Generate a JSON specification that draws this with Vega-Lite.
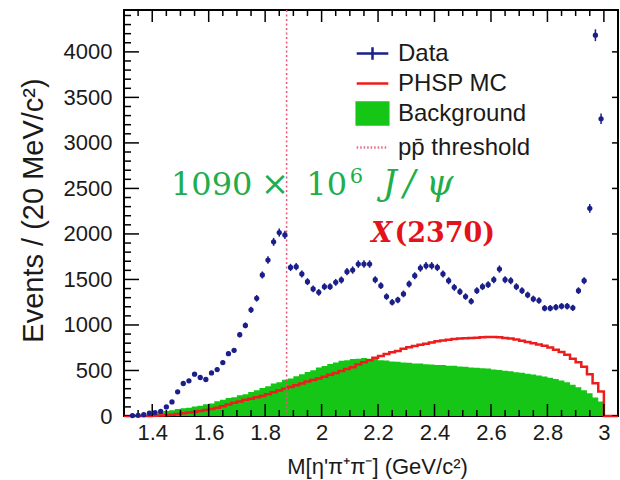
{
  "$schema": "https://vega.github.io/schema/vega-lite/v6.json",
  "width": 494,
  "height": 406,
  "autosize": {"type": "none"},
  "padding": {"left": 124, "top": 10, "right": 2, "bottom": 64},
  "background": "white",
  "config": {
    "view": {"stroke": "black", "strokeWidth": 2},
    "font": "Liberation Sans",
    "axis": {
      "grid": false,
      "domain": false,
      "ticks": false,
      "labelFont": "Liberation Sans",
      "labelFontSize": 22,
      "labelColor": "#1a1a1a",
      "titleFont": "Liberation Sans",
      "titleFontWeight": "normal",
      "titleColor": "#1a1a1a"
    },
    "legend": {
      "orient": "none",
      "legendX": 231,
      "legendY": 26,
      "padding": 0,
      "labelFont": "Liberation Sans",
      "labelFontSize": 24,
      "labelColor": "#1a1a1a",
      "symbolSize": 1000,
      "symbolStrokeWidth": 2.5,
      "symbolOpacity": 1,
      "labelOffset": 8,
      "rowPadding": 0
    }
  },
  "datasets": {
    "xMajor": [{"v": 1.4}, {"v": 1.6}, {"v": 1.8}, {"v": 2.0}, {"v": 2.2}, {"v": 2.4}, {"v": 2.6}, {"v": 2.8}, {"v": 3.0}],
    "xMinor": [{"v": 1.35}, {"v": 1.45}, {"v": 1.5}, {"v": 1.55}, {"v": 1.65}, {"v": 1.7}, {"v": 1.75}, {"v": 1.85}, {"v": 1.9}, {"v": 1.95}, {"v": 2.05}, {"v": 2.1}, {"v": 2.15}, {"v": 2.25}, {"v": 2.3}, {"v": 2.35}, {"v": 2.45}, {"v": 2.5}, {"v": 2.55}, {"v": 2.65}, {"v": 2.7}, {"v": 2.75}, {"v": 2.85}, {"v": 2.9}, {"v": 2.95}],
    "yMajor": [{"v": 0}, {"v": 500}, {"v": 1000}, {"v": 1500}, {"v": 2000}, {"v": 2500}, {"v": 3000}, {"v": 3500}, {"v": 4000}],
    "yMinor": [{"v": 100}, {"v": 200}, {"v": 300}, {"v": 400}, {"v": 600}, {"v": 700}, {"v": 800}, {"v": 900}, {"v": 1100}, {"v": 1200}, {"v": 1300}, {"v": 1400}, {"v": 1600}, {"v": 1700}, {"v": 1800}, {"v": 1900}, {"v": 2100}, {"v": 2200}, {"v": 2300}, {"v": 2400}, {"v": 2600}, {"v": 2700}, {"v": 2800}, {"v": 2900}, {"v": 3100}, {"v": 3200}, {"v": 3300}, {"v": 3400}, {"v": 3600}, {"v": 3700}, {"v": 3800}, {"v": 3900}, {"v": 4100}, {"v": 4200}, {"v": 4300}, {"v": 4400}],
    "mc": [
      {"m_lo": 1.30, "phsp": 0, "bkg": 0},
      {"m_lo": 1.32, "phsp": 0, "bkg": 0},
      {"m_lo": 1.34, "phsp": 0, "bkg": 5},
      {"m_lo": 1.36, "phsp": 0, "bkg": 10},
      {"m_lo": 1.38, "phsp": 0, "bkg": 15},
      {"m_lo": 1.40, "phsp": 2, "bkg": 25},
      {"m_lo": 1.42, "phsp": 5, "bkg": 40},
      {"m_lo": 1.44, "phsp": 10, "bkg": 55},
      {"m_lo": 1.46, "phsp": 15, "bkg": 62},
      {"m_lo": 1.48, "phsp": 22, "bkg": 78},
      {"m_lo": 1.50, "phsp": 30, "bkg": 85},
      {"m_lo": 1.52, "phsp": 38, "bkg": 90},
      {"m_lo": 1.54, "phsp": 45, "bkg": 104},
      {"m_lo": 1.56, "phsp": 55, "bkg": 112},
      {"m_lo": 1.58, "phsp": 65, "bkg": 128},
      {"m_lo": 1.60, "phsp": 78, "bkg": 138},
      {"m_lo": 1.62, "phsp": 92, "bkg": 162},
      {"m_lo": 1.64, "phsp": 108, "bkg": 178},
      {"m_lo": 1.66, "phsp": 125, "bkg": 198},
      {"m_lo": 1.68, "phsp": 145, "bkg": 207},
      {"m_lo": 1.70, "phsp": 160, "bkg": 228},
      {"m_lo": 1.72, "phsp": 178, "bkg": 238},
      {"m_lo": 1.74, "phsp": 190, "bkg": 265},
      {"m_lo": 1.76, "phsp": 205, "bkg": 282},
      {"m_lo": 1.78, "phsp": 220, "bkg": 308},
      {"m_lo": 1.80, "phsp": 240, "bkg": 328},
      {"m_lo": 1.82, "phsp": 260, "bkg": 358},
      {"m_lo": 1.84, "phsp": 280, "bkg": 372},
      {"m_lo": 1.86, "phsp": 300, "bkg": 398},
      {"m_lo": 1.88, "phsp": 318, "bkg": 412},
      {"m_lo": 1.90, "phsp": 338, "bkg": 438},
      {"m_lo": 1.92, "phsp": 358, "bkg": 458},
      {"m_lo": 1.94, "phsp": 378, "bkg": 483},
      {"m_lo": 1.96, "phsp": 395, "bkg": 502},
      {"m_lo": 1.98, "phsp": 412, "bkg": 532},
      {"m_lo": 2.00, "phsp": 432, "bkg": 548},
      {"m_lo": 2.02, "phsp": 452, "bkg": 572},
      {"m_lo": 2.04, "phsp": 472, "bkg": 588},
      {"m_lo": 2.06, "phsp": 495, "bkg": 607},
      {"m_lo": 2.08, "phsp": 515, "bkg": 613},
      {"m_lo": 2.10, "phsp": 535, "bkg": 627},
      {"m_lo": 2.12, "phsp": 565, "bkg": 628},
      {"m_lo": 2.14, "phsp": 590, "bkg": 637},
      {"m_lo": 2.16, "phsp": 612, "bkg": 628},
      {"m_lo": 2.18, "phsp": 640, "bkg": 626},
      {"m_lo": 2.20, "phsp": 660, "bkg": 612},
      {"m_lo": 2.22, "phsp": 680, "bkg": 611},
      {"m_lo": 2.24, "phsp": 700, "bkg": 598},
      {"m_lo": 2.26, "phsp": 715, "bkg": 596},
      {"m_lo": 2.28, "phsp": 738, "bkg": 588},
      {"m_lo": 2.30, "phsp": 755, "bkg": 586},
      {"m_lo": 2.32, "phsp": 768, "bkg": 578},
      {"m_lo": 2.34, "phsp": 782, "bkg": 577},
      {"m_lo": 2.36, "phsp": 795, "bkg": 568},
      {"m_lo": 2.38, "phsp": 808, "bkg": 566},
      {"m_lo": 2.40, "phsp": 820, "bkg": 560},
      {"m_lo": 2.42, "phsp": 830, "bkg": 559},
      {"m_lo": 2.44, "phsp": 838, "bkg": 553},
      {"m_lo": 2.46, "phsp": 845, "bkg": 551},
      {"m_lo": 2.48, "phsp": 850, "bkg": 544},
      {"m_lo": 2.50, "phsp": 854, "bkg": 541},
      {"m_lo": 2.52, "phsp": 858, "bkg": 534},
      {"m_lo": 2.54, "phsp": 860, "bkg": 531},
      {"m_lo": 2.56, "phsp": 864, "bkg": 524},
      {"m_lo": 2.58, "phsp": 867, "bkg": 521},
      {"m_lo": 2.60, "phsp": 868, "bkg": 511},
      {"m_lo": 2.62, "phsp": 866, "bkg": 506},
      {"m_lo": 2.64, "phsp": 858, "bkg": 497},
      {"m_lo": 2.66, "phsp": 850, "bkg": 491},
      {"m_lo": 2.68, "phsp": 840, "bkg": 481},
      {"m_lo": 2.70, "phsp": 828, "bkg": 476},
      {"m_lo": 2.72, "phsp": 812, "bkg": 464},
      {"m_lo": 2.74, "phsp": 800, "bkg": 456},
      {"m_lo": 2.76, "phsp": 785, "bkg": 444},
      {"m_lo": 2.78, "phsp": 772, "bkg": 433},
      {"m_lo": 2.80, "phsp": 752, "bkg": 419},
      {"m_lo": 2.82, "phsp": 728, "bkg": 406},
      {"m_lo": 2.84, "phsp": 703, "bkg": 389},
      {"m_lo": 2.86, "phsp": 672, "bkg": 371},
      {"m_lo": 2.88, "phsp": 630, "bkg": 344},
      {"m_lo": 2.90, "phsp": 590, "bkg": 316},
      {"m_lo": 2.92, "phsp": 540, "bkg": 284},
      {"m_lo": 2.94, "phsp": 460, "bkg": 251},
      {"m_lo": 2.96, "phsp": 360, "bkg": 204},
      {"m_lo": 2.98, "phsp": 268, "bkg": 160},
      {"m_lo": 3.00, "phsp": 0, "bkg": 0},
      {"m_lo": 3.05, "phsp": 0, "bkg": 0}
    ],
    "pts": [
      {"m": 1.33, "n": 5, "err": 3},
      {"m": 1.35, "n": 8, "err": 3},
      {"m": 1.37, "n": 15, "err": 4},
      {"m": 1.39, "n": 30, "err": 6},
      {"m": 1.41, "n": 38, "err": 6},
      {"m": 1.43, "n": 50, "err": 7},
      {"m": 1.45, "n": 100, "err": 10},
      {"m": 1.47, "n": 155, "err": 12},
      {"m": 1.49, "n": 266, "err": 16},
      {"m": 1.51, "n": 357, "err": 19},
      {"m": 1.53, "n": 386, "err": 20},
      {"m": 1.55, "n": 459, "err": 21},
      {"m": 1.57, "n": 423, "err": 21},
      {"m": 1.59, "n": 401, "err": 20},
      {"m": 1.61, "n": 473, "err": 22},
      {"m": 1.63, "n": 510, "err": 23},
      {"m": 1.65, "n": 587, "err": 24},
      {"m": 1.67, "n": 685, "err": 26},
      {"m": 1.69, "n": 721, "err": 27},
      {"m": 1.71, "n": 893, "err": 30},
      {"m": 1.73, "n": 995, "err": 32},
      {"m": 1.75, "n": 1166, "err": 34},
      {"m": 1.77, "n": 1293, "err": 36},
      {"m": 1.79, "n": 1549, "err": 39},
      {"m": 1.81, "n": 1713, "err": 41},
      {"m": 1.83, "n": 1913, "err": 44},
      {"m": 1.85, "n": 2015, "err": 45},
      {"m": 1.87, "n": 1989, "err": 45},
      {"m": 1.89, "n": 1632, "err": 40},
      {"m": 1.91, "n": 1640, "err": 40},
      {"m": 1.93, "n": 1560, "err": 39},
      {"m": 1.95, "n": 1476, "err": 38},
      {"m": 1.97, "n": 1396, "err": 37},
      {"m": 1.99, "n": 1359, "err": 37},
      {"m": 2.01, "n": 1421, "err": 38},
      {"m": 2.03, "n": 1421, "err": 38},
      {"m": 2.05, "n": 1468, "err": 38},
      {"m": 2.07, "n": 1494, "err": 39},
      {"m": 2.09, "n": 1585, "err": 40},
      {"m": 2.11, "n": 1603, "err": 40},
      {"m": 2.13, "n": 1669, "err": 41},
      {"m": 2.15, "n": 1669, "err": 41},
      {"m": 2.17, "n": 1669, "err": 41},
      {"m": 2.19, "n": 1497, "err": 39},
      {"m": 2.21, "n": 1432, "err": 38},
      {"m": 2.23, "n": 1312, "err": 36},
      {"m": 2.25, "n": 1249, "err": 35},
      {"m": 2.27, "n": 1275, "err": 36},
      {"m": 2.29, "n": 1341, "err": 37},
      {"m": 2.31, "n": 1450, "err": 38},
      {"m": 2.33, "n": 1541, "err": 39},
      {"m": 2.35, "n": 1625, "err": 40},
      {"m": 2.37, "n": 1650, "err": 41},
      {"m": 2.39, "n": 1650, "err": 41},
      {"m": 2.41, "n": 1632, "err": 40},
      {"m": 2.43, "n": 1560, "err": 39},
      {"m": 2.45, "n": 1486, "err": 39},
      {"m": 2.47, "n": 1413, "err": 38},
      {"m": 2.49, "n": 1366, "err": 37},
      {"m": 2.51, "n": 1312, "err": 36},
      {"m": 2.53, "n": 1260, "err": 35},
      {"m": 2.55, "n": 1377, "err": 37},
      {"m": 2.57, "n": 1421, "err": 38},
      {"m": 2.59, "n": 1443, "err": 38},
      {"m": 2.61, "n": 1497, "err": 39},
      {"m": 2.63, "n": 1614, "err": 40},
      {"m": 2.65, "n": 1497, "err": 39},
      {"m": 2.67, "n": 1486, "err": 39},
      {"m": 2.69, "n": 1421, "err": 38},
      {"m": 2.71, "n": 1377, "err": 37},
      {"m": 2.73, "n": 1330, "err": 36},
      {"m": 2.75, "n": 1286, "err": 36},
      {"m": 2.77, "n": 1268, "err": 36},
      {"m": 2.79, "n": 1184, "err": 34},
      {"m": 2.81, "n": 1184, "err": 34},
      {"m": 2.83, "n": 1195, "err": 35},
      {"m": 2.85, "n": 1206, "err": 35},
      {"m": 2.87, "n": 1206, "err": 35},
      {"m": 2.89, "n": 1188, "err": 34},
      {"m": 2.91, "n": 1377, "err": 37},
      {"m": 2.93, "n": 1486, "err": 39},
      {"m": 2.95, "n": 2281, "err": 48},
      {"m": 2.97, "n": 4183, "err": 65},
      {"m": 2.99, "n": 3265, "err": 57}
    ]
  },
  "layer": [
    {
      "data": {"name": "mc"},
      "mark": {"type": "area", "interpolate": "step-after", "color": "#16c616"},
      "encoding": {
        "x": {
          "field": "m_lo", "type": "quantitative",
          "scale": {"domain": [1.3, 3.05], "nice": false, "zero": false},
          "axis": {
            "values": [1.4, 1.6, 1.8, 2, 2.2, 2.4, 2.6, 2.8, 3],
            "format": "~g",
            "labelPadding": 6,
            "title": "M[η'π⁺π⁻] (GeV/c²)",
            "titleFontSize": 22,
            "titleX": 253,
            "titleY": 57,
            "titleBaseline": "alphabetic",
            "titleAlign": "center"
          }
        },
        "y": {
          "field": "bkg", "type": "quantitative",
          "scale": {"domain": [0, 4460], "nice": false},
          "axis": {
            "values": [0, 500, 1000, 1500, 2000, 2500, 3000, 3500, 4000],
            "format": "d",
            "labelPadding": 12,
            "title": "Events / (20 MeV/c²)",
            "titleFontSize": 29,
            "titleAngle": -90,
            "titleX": -82,
            "titleY": 200,
            "titleAlign": "center",
            "titleBaseline": "alphabetic"
          }
        }
      }
    },
    {
      "data": {"name": "mc"},
      "mark": {"type": "line", "interpolate": "step-after", "color": "#ee1c1c", "strokeWidth": 2.5},
      "encoding": {
        "x": {"field": "m_lo", "type": "quantitative", "axis": null},
        "y": {"field": "phsp", "type": "quantitative", "axis": null}
      }
    },
    {
      "data": {"values": [{"m": 1.876}]},
      "mark": {"type": "rule", "color": "#e8577a", "strokeDash": [2, 2.5], "strokeWidth": 1.5},
      "encoding": {
        "x": {"field": "m", "type": "quantitative", "axis": null}
      }
    },
    {
      "data": {"name": "xMajor"},
      "mark": {"type": "tick", "orient": "vertical", "size": 24, "thickness": 1.5, "color": "black", "opacity": 1, "clip": true},
      "encoding": {
        "x": {"field": "v", "type": "quantitative", "axis": null},
        "y": {"datum": 0, "type": "quantitative", "axis": null}
      }
    },
    {
      "data": {"name": "xMajor"},
      "mark": {"type": "tick", "orient": "vertical", "size": 24, "thickness": 1.5, "color": "black", "opacity": 1, "clip": true},
      "encoding": {
        "x": {"field": "v", "type": "quantitative", "axis": null},
        "y": {"datum": 4460, "type": "quantitative", "axis": null}
      }
    },
    {
      "data": {"name": "xMinor"},
      "mark": {"type": "tick", "orient": "vertical", "size": 12, "thickness": 1.5, "color": "black", "opacity": 1, "clip": true},
      "encoding": {
        "x": {"field": "v", "type": "quantitative", "axis": null},
        "y": {"datum": 0, "type": "quantitative", "axis": null}
      }
    },
    {
      "data": {"name": "xMinor"},
      "mark": {"type": "tick", "orient": "vertical", "size": 12, "thickness": 1.5, "color": "black", "opacity": 1, "clip": true},
      "encoding": {
        "x": {"field": "v", "type": "quantitative", "axis": null},
        "y": {"datum": 4460, "type": "quantitative", "axis": null}
      }
    },
    {
      "data": {"name": "yMajor"},
      "mark": {"type": "tick", "orient": "horizontal", "size": 30, "thickness": 1.5, "color": "black", "opacity": 1, "clip": true},
      "encoding": {
        "x": {"datum": 1.3, "type": "quantitative", "axis": null},
        "y": {"field": "v", "type": "quantitative", "axis": null}
      }
    },
    {
      "data": {"name": "yMinor"},
      "mark": {"type": "tick", "orient": "horizontal", "size": 14, "thickness": 1.5, "color": "black", "opacity": 1, "clip": true},
      "encoding": {
        "x": {"datum": 1.3, "type": "quantitative", "axis": null},
        "y": {"field": "v", "type": "quantitative", "axis": null}
      }
    },
    {
      "data": {"name": "yMajor"},
      "mark": {"type": "tick", "orient": "horizontal", "size": 12, "thickness": 1.5, "color": "black", "opacity": 1, "clip": true},
      "encoding": {
        "x": {"datum": 3.05, "type": "quantitative", "axis": null},
        "y": {"field": "v", "type": "quantitative", "axis": null}
      }
    },
    {
      "data": {"name": "pts"},
      "mark": {"type": "errorbar", "color": "#1b1f8a", "thickness": 1.5},
      "encoding": {
        "x": {"field": "m", "type": "quantitative", "axis": null},
        "y": {"field": "n", "type": "quantitative", "axis": null},
        "yError": {"field": "err"}
      }
    },
    {
      "data": {"name": "pts"},
      "mark": {"type": "circle", "size": 28, "color": "#1b1f8a", "opacity": 1},
      "encoding": {
        "x": {"field": "m", "type": "quantitative", "axis": null},
        "y": {"field": "n", "type": "quantitative", "axis": null}
      }
    },
    {
      "data": {"values": [
        {"m": 1.4664, "n": 2429, "label": "1090"},
        {"m": 1.946, "n": 2429, "label": "10"}
      ]},
      "mark": {"type": "text", "font": "DejaVu Serif", "fontSize": 32, "color": "#22ad4b", "align": "left", "baseline": "alphabetic"},
      "encoding": {
        "x": {"field": "m", "type": "quantitative", "axis": null},
        "y": {"field": "n", "type": "quantitative", "axis": null},
        "text": {"field": "label"}
      }
    },
    {
      "data": {"values": [{"m": 2.1, "n": 2560, "label": "6"}]},
      "mark": {"type": "text", "font": "DejaVu Serif", "fontSize": 21, "color": "#22ad4b", "align": "left", "baseline": "alphabetic"},
      "encoding": {
        "x": {"field": "m", "type": "quantitative", "axis": null},
        "y": {"field": "n", "type": "quantitative", "axis": null},
        "text": {"field": "label"}
      }
    },
    {
      "data": {"values": [{"m": 1.835, "n": 2429, "label": "×"}]},
      "mark": {"type": "text", "font": "DejaVu Serif", "fontSize": 34, "color": "#22ad4b", "align": "center", "baseline": "alphabetic"},
      "encoding": {
        "x": {"field": "m", "type": "quantitative", "axis": null},
        "y": {"field": "n", "type": "quantitative", "axis": null},
        "text": {"field": "label"}
      }
    },
    {
      "data": {"values": [
        {"m": 2.217, "n": 2429, "label": "J"},
        {"m": 2.29, "n": 2429, "label": "/"},
        {"m": 2.37, "n": 2429, "label": "ψ"}
      ]},
      "mark": {"type": "text", "font": "DejaVu Serif", "fontSize": 35, "fontStyle": "italic", "color": "#22ad4b", "align": "left", "baseline": "alphabetic"},
      "encoding": {
        "x": {"field": "m", "type": "quantitative", "axis": null},
        "y": {"field": "n", "type": "quantitative", "axis": null},
        "text": {"field": "label"}
      }
    },
    {
      "data": {"values": [{"m": 2.176, "n": 1916, "label": "X"}]},
      "mark": {"type": "text", "font": "DejaVu Serif", "fontSize": 27, "fontStyle": "italic", "fontWeight": "bold", "color": "#e3121b", "align": "left", "baseline": "alphabetic"},
      "encoding": {
        "x": {"field": "m", "type": "quantitative", "axis": null},
        "y": {"field": "n", "type": "quantitative", "axis": null},
        "text": {"field": "label"}
      }
    },
    {
      "data": {"values": [{"m": 2.258, "n": 1916, "label": "(2370)"}]},
      "mark": {"type": "text", "font": "DejaVu Serif", "fontSize": 27, "fontWeight": "bold", "color": "#e3121b", "align": "left", "baseline": "alphabetic"},
      "encoding": {
        "x": {"field": "m", "type": "quantitative", "axis": null},
        "y": {"field": "n", "type": "quantitative", "axis": null},
        "text": {"field": "label"}
      }
    },
    {
      "data": {"values": [
        {"series": "Data"},
        {"series": "PHSP MC"},
        {"series": "Background"},
        {"series": "pp̄ threshold"}
      ]},
      "transform": [{"filter": "false"}],
      "mark": {"type": "point", "filled": true, "opacity": 1},
      "encoding": {
        "shape": {
          "field": "series", "type": "nominal",
          "scale": {
            "domain": ["Data", "PHSP MC", "Background", "pp̄ threshold"],
            "range": ["M-1,0H1M0,-0.4V0.4", "M-1,0H1", "M-1,-0.7H1V0.7H-1Z", "M-1,0H1"]
          },
          "legend": {"title": null}
        },
        "fill": {
          "field": "series", "type": "nominal",
          "scale": {
            "domain": ["Data", "PHSP MC", "Background", "pp̄ threshold"],
            "range": ["#1b1f8a", "#ee1c1c", "#16c616", "#e0708c"]
          },
          "legend": {"title": null}
        },
        "stroke": {
          "field": "series", "type": "nominal",
          "scale": {
            "domain": ["Data", "PHSP MC", "Background", "pp̄ threshold"],
            "range": ["#1b1f8a", "#ee1c1c", "#16c616", "#e0708c"]
          },
          "legend": {"title": null}
        },
        "strokeDash": {
          "field": "series", "type": "nominal",
          "scale": {
            "domain": ["Data", "PHSP MC", "Background", "pp̄ threshold"],
            "range": [[1, 0], [1, 0], [1, 0], [1.5, 2]]
          },
          "legend": {"title": null}
        }
      }
    }
  ],
  "resolve": {
    "scale": {"x": "shared", "y": "shared"},
    "axis": {"x": "independent", "y": "independent"}
  }
}
